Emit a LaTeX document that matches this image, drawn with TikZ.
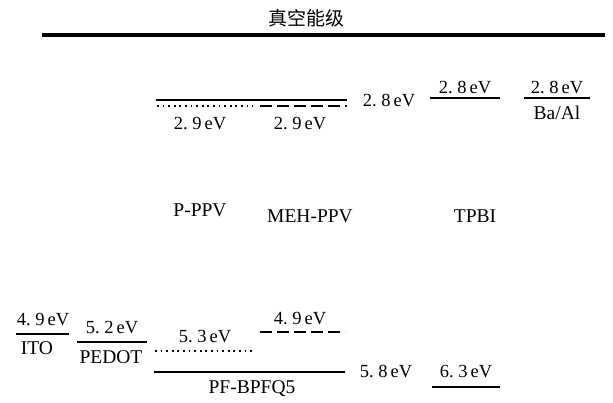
\documentclass[tikz,border=0pt]{standalone}
\usepackage{fontspec}
\setmainfont{Liberation Serif}
\newfontfamily\cjk{Noto Sans CJK SC}
\begin{document}
\begin{tikzpicture}[x=1pt,y=-1pt,
  lvl/.style={line width=2.6pt},
  lvldot/.style={line width=1.8pt,dash pattern=on 1.8pt off 3.8pt},
  lvldash/.style={line width=1.8pt,dash pattern=on 12pt off 5pt},
  lab/.style={inner sep=0pt,font=\fontsize{18.5}{20}\selectfont},
  mat/.style={inner sep=0pt,font=\fontsize{19.5}{21}\selectfont}]
\useasboundingbox (0,0) rectangle (613,402);
% vacuum level
\node[inner sep=0pt,font=\cjk\fontsize{19}{21}\selectfont] (title) at (306,18) {真空能级};
\draw[line width=3.2pt] (42,35) -- (605,35);
% LUMO levels
\draw[lvl] (156,100) -- (347,100);
\draw[lvldot] (157,106) -- (253,106);
\draw[lvldash] (260,106) -- (347,106);
\node[lab] (l1) at (200,124) {2.\ 9\,eV};
\node[lab] (l2) at (300,124) {2.\ 9\,eV};
\node[lab] (l3) at (389,100) {2.\ 8\,eV};
\draw[lvl] (430,98) -- (500,98);
\node[lab] (l4) at (465,87) {2.\ 8\,eV};
\draw[lvl] (524,98) -- (590,98);
\node[lab] (l5) at (557,87) {2.\ 8\,eV};
\node[mat] (baal) at (557,113) {Ba/Al};
% material names
\node[mat] (ppv) at (200,210) {P-PPV};
\node[mat] (meh) at (310,216) {MEH-PPV};
\node[mat] (tpbi) at (475,216) {TPBI};
% HOMO levels
\draw[lvl] (16,334) -- (69,334);
\node[lab] (h1) at (43,320) {4.\ 9\,eV};
\node[mat] (ito) at (37,348) {ITO};
\draw[lvl] (77,342) -- (147,342);
\node[lab] (h2) at (112,328) {5.\ 2\,eV};
\node[mat] (pedot) at (111,357) {PEDOT};
\draw[lvldot] (155,351) -- (252,351);
\node[lab] (h3) at (205,337) {5.\ 3\,eV};
\draw[lvldash] (260,332) -- (345,332);
\node[lab] (h4) at (300,319) {4.\ 9\,eV};
\draw[lvl] (154,372) -- (345,372);
\node[mat] (pf) at (252,389) {PF-BPFQ5};
\node[lab] (h5) at (386,371) {5.\ 8\,eV};
\draw[lvl] (432,387) -- (500,387);
\node[lab] (h6) at (466,372) {6.\ 3\,eV};
\end{tikzpicture}
\end{document}
